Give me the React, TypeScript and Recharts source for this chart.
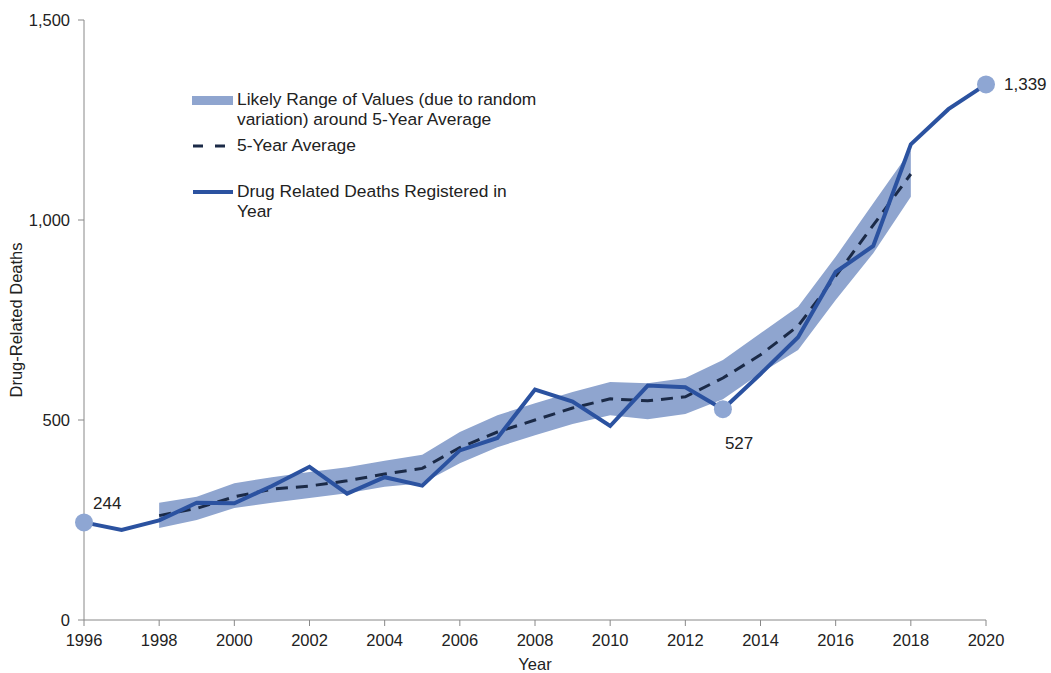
import { ComposedChart, Area, Line, XAxis, YAxis, Legend } from 'recharts'

const years = [
  1996, 1997, 1998, 1999, 2000, 2001, 2002, 2003, 2004, 2005, 2006, 2007, 2008,
  2009, 2010, 2011, 2012, 2013, 2014, 2015, 2016, 2017, 2018, 2019, 2020,
]

const deaths = [
  244, 225, 249, 293, 292, 335, 383, 316, 357, 336, 424, 455, 576, 546, 485, 586,
  582, 527, 615, 707, 870, 935, 1189, 1277, 1339,
]

// 5-year average, only from 1998 to 2018
const fiveYearAvg = [
  null, null, 261, 279, 308, 327, 335, 348, 365, 379, 431, 470, 500, 530, 553, 548,
  558, 605, 663, 735, 860, 987, 1115, null, null,
]

const rangeLow = [
  null, null, 230, 250, 280, 293, 305, 317, 333, 342, 392, 432, 462, 490, 512, 502,
  515, 552, 617, 675, 800, 917, 1058, null, null,
]

const rangeHigh = [
  null, null, 293, 308, 342, 357, 370, 382, 398, 413, 470, 512, 542, 570, 595, 592,
  605, 650, 717, 783, 908, 1042, 1175, null, null,
]

const markerYears = [1996, 2013, 2020]

const yTicks = [0, 500, 1000, 1500]
const xTicks = [1996, 1998, 2000, 2002, 2004, 2006, 2008, 2010, 2012, 2014, 2016, 2018, 2020]

const data = years.map((year, i) => ({
  year,
  deaths: deaths[i],
  avg: fiveYearAvg[i],
  range: rangeLow[i] != null ? [rangeLow[i], rangeHigh[i]] : null,
}))

const FONT = '"Liberation Sans", Arial, sans-serif'
const BAND = '#8FA5CF'
const LINE = '#2B52A0'
const DASH = '#1B2A47'
const MARKER = '#8EA6D3'
const TXT = '#222'

const fmt = (v: number) => v.toLocaleString('en-US')

// label offsets next to each highlighted point
const labelPos: Record<number, { dx: number; dy: number }> = {
  1996: { dx: 9, dy: -13 },
  2013: { dx: 2, dy: 40 },
  2020: { dx: 18, dy: 6 },
}

const renderDot = (props: any) => {
  const { cx, cy, payload, index } = props
  if (!markerYears.includes(payload.year)) return <g key={`d${index}`} />
  const pos = labelPos[payload.year]
  return (
    <g key={`d${index}`}>
      <circle cx={cx} cy={cy} r={9} fill={MARKER} stroke="none" />
      <text x={cx + pos.dx} y={cy + pos.dy} fontSize={17} fill={TXT} fontFamily={FONT}>
        {fmt(payload.deaths)}
      </text>
    </g>
  )
}

const rowText = { fontSize: 17.4, color: TXT, lineHeight: '19.5px' }

const LegendBox = () => (
  <div style={{ position: 'relative', width: 400, height: 140, fontFamily: FONT }}>
    <div style={{ position: 'absolute', left: 0, top: 0, display: 'flex' }}>
      <svg width={47} height={20}>
        <rect x={2} y={6} width={41} height={9} fill={BAND} />
      </svg>
      <div style={rowText}>
        Likely Range of Values (due to random
        <br />
        variation) around 5-Year Average
      </div>
    </div>
    <div style={{ position: 'absolute', left: 0, top: 46, display: 'flex' }}>
      <svg width={47} height={20}>
        <line x1={3} y1={10} x2={43} y2={10} stroke={DASH} strokeWidth={3} strokeDasharray="10 12" />
      </svg>
      <div style={rowText}>5-Year Average</div>
    </div>
    <div style={{ position: 'absolute', left: 0, top: 92, display: 'flex' }}>
      <svg width={47} height={20}>
        <line x1={3} y1={10} x2={43} y2={10} stroke={LINE} strokeWidth={4} />
      </svg>
      <div style={rowText}>
        Drug Related Deaths Registered in
        <br />
        Year
      </div>
    </div>
  </div>
)

export default function App() {
  return (
    <div style={{ position: 'absolute', left: 0, top: 0, background: '#fff' }}>
      <ComposedChart
        width={1051}
        height={673}
        data={data}
        margin={{ top: 20, right: 65, bottom: 0, left: 0 }}
        style={{ fontFamily: FONT }}
      >
        <XAxis
          dataKey="year"
          type="number"
          domain={[1996, 2020]}
          ticks={xTicks}
          height={53}
          tick={{ fill: TXT, fontSize: 16.5 }}
          tickSize={6}
          tickMargin={8}
          axisLine={{ stroke: '#888' }}
          tickLine={{ stroke: '#888' }}
          label={{ value: 'Year', position: 'insideBottom', offset: 3, fill: TXT, fontSize: 16.5 }}
        />
        <YAxis
          domain={[0, 1500]}
          ticks={yTicks}
          width={84}
          tickFormatter={fmt}
          tick={{ fill: TXT, fontSize: 16.5 }}
          tickSize={6}
          tickMargin={8}
          axisLine={{ stroke: '#888' }}
          tickLine={{ stroke: '#888' }}
          label={{
            value: 'Drug-Related Deaths',
            angle: -90,
            position: 'insideLeft',
            offset: 16,
            style: { textAnchor: 'middle' },
            fill: TXT,
            fontSize: 16.5,
          }}
        />
        <Legend
          layout="vertical"
          align="center"
          verticalAlign="middle"
          wrapperStyle={{ left: 190, top: 90, width: 400 }}
          content={() => <LegendBox />}
        />
        <Area
          dataKey="range"
          type="linear"
          fill={BAND}
          fillOpacity={1}
          stroke="none"
          isAnimationActive={false}
          connectNulls={false}
        />
        <Line
          dataKey="avg"
          type="linear"
          stroke={DASH}
          strokeWidth={3}
          strokeDasharray="12 8"
          dot={false}
          activeDot={false}
          isAnimationActive={false}
        />
        <Line
          dataKey="deaths"
          type="linear"
          stroke={LINE}
          strokeWidth={4}
          dot={renderDot}
          activeDot={false}
          isAnimationActive={false}
        />
      </ComposedChart>
    </div>
  )
}
